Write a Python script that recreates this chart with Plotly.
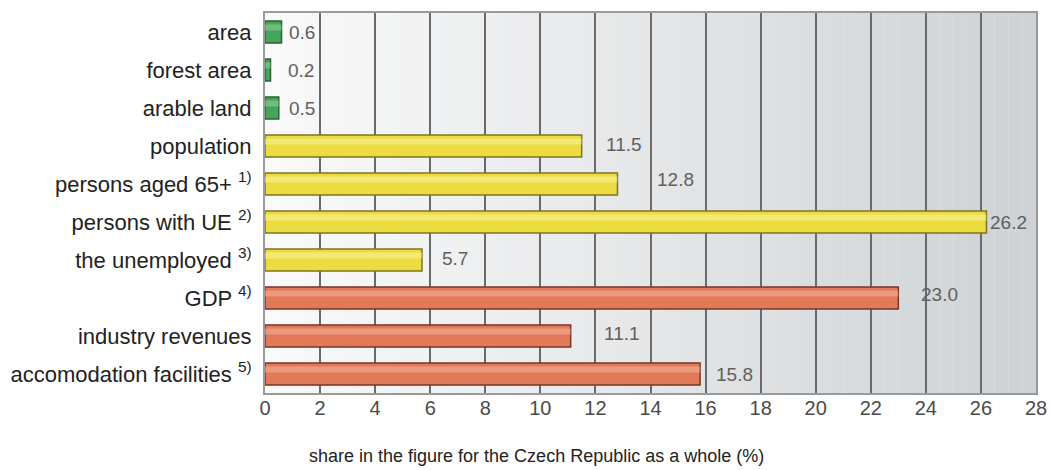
import plotly.graph_objects as go

categories = ["area", "forest area", "arable land", "population",
              "persons aged 65+ <sup>1)</sup>", "persons with UE <sup>2)</sup>",
              "the unemployed <sup>3)</sup>", "GDP <sup>4)</sup>",
              "industry revenues", "accomodation facilities <sup>5)</sup>"]
values = [0.6, 0.2, 0.5, 11.5, 12.8, 26.2, 5.7, 23.0, 11.1, 15.8]
labels = ["0.6", "0.2", "0.5", "11.5", "12.8", "26.2", "5.7", "23.0", "11.1", "15.8"]
groups = ["green", "green", "green", "yellow", "yellow", "yellow", "yellow", "red", "red", "red"]
tick_vals = list(range(0, 29, 2))
x_title = "share in the figure for the Czech Republic as a whole (%)"

# styling only: pixel gap between bar end and its value label
label_xshift = [5, 15, 8, 22, 38, 2, 18, 21, 31, 14]
label_yshift = [0, 0, 0, 2, 5, 0, 2, 4, 3, 0]

fill = {"green": "#45a559", "yellow": "#ebdd40", "red": "#e27a5a"}
edge = {"green": "#2c6236", "yellow": "#7d7420", "red": "#7a3424"}
hi = {"green": "#9ad8a5", "yellow": "#fbf5a8", "red": "#f5b9a3"}

fig = go.Figure()
# background gradient (near white -> light grey) across the plot area
n = 56
for i in range(n):
    t = i / (n - 1)
    c0 = (250, 250, 250)
    c1 = (207, 211, 214)
    col = tuple(int(c0[k] + (c1[k] - c0[k]) * t) for k in range(3))
    fig.add_shape(type="rect", xref="x", yref="paper",
                  x0=28 * i / n, x1=28 * (i + 1) / n, y0=0, y1=1,
                  fillcolor="rgb(%d,%d,%d)" % col, line_width=0, layer="below")

fig.add_trace(go.Bar(
    y=categories, x=values, orientation="h",
    marker=dict(color=[fill[g] for g in groups],
                line=dict(color=[edge[g] for g in groups], width=1.5)),
    width=0.58, hoverinfo="skip", showlegend=False))
# highlight stripe to suggest cylindrical shading
fig.add_trace(go.Bar(
    y=categories, x=values, orientation="h",
    marker=dict(color=[hi[g] for g in groups], line_width=0, opacity=0.5),
    width=0.16, offset=-0.2, hoverinfo="skip", showlegend=False))

for c, v, lab, dx, dy in zip(categories, values, labels, label_xshift, label_yshift):
    fig.add_annotation(x=v, y=c, text=lab, showarrow=False, xanchor="left",
                       xshift=dx, yshift=dy,
                       font=dict(family="Liberation Sans, Arial", size=19, color="#606060"))

fig.add_annotation(text=x_title, xref="paper", yref="paper", x=0.3515, y=-0.166,
                   xanchor="center", yanchor="middle", showarrow=False,
                   font=dict(family="Liberation Sans, Arial", size=18, color="#222"))

fig.update_layout(
    width=1051, height=470,
    margin=dict(l=265, r=15, t=13, b=77),
    paper_bgcolor="white", plot_bgcolor="#eeeeee",
    barmode="overlay",
    font=dict(family="Liberation Sans, Arial, sans-serif", color="#222"),
    xaxis=dict(range=[0, 28], tickvals=tick_vals, ticktext=[str(t) for t in tick_vals],
               showgrid=True, gridcolor="#6a6a6a", gridwidth=2, zeroline=False,
               showline=True, linecolor="#9a9a9a", linewidth=2, mirror=True,
               ticks="", automargin=False, ticklabelstandoff=-4,
               tickfont=dict(family="Liberation Sans, Arial", size=20, color="#4a4a4a")),
    yaxis=dict(autorange="reversed", categoryorder="array", categoryarray=categories,
               showline=True, linecolor="#9a9a9a", linewidth=2, mirror=True,
               ticks="", ticklabelstandoff=7, automargin=False,
               tickfont=dict(size=22, color="#222")),
)
fig.write_html("out.html", config={"displayModeBar": False},
               post_script="document.body.style.margin='0';")
